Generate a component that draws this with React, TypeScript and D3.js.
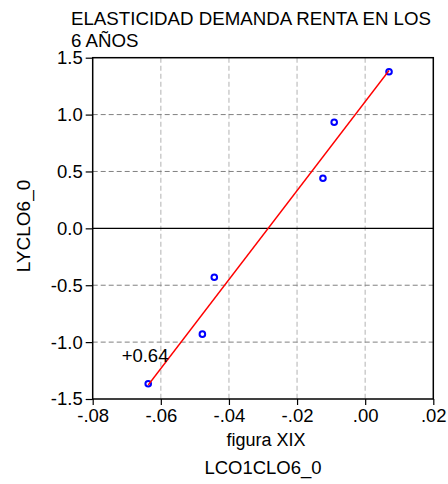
import React, { useEffect, useRef } from "react";
import * as d3 from "d3";

// valores
const lco1clo6 = [-0.0637, -0.0478, -0.0443, -0.0124, -0.0091, 0.007];
const lyclo6 = [-1.366, -0.93, -0.43, 0.44, 0.932, 1.377];
const xTicks = [-0.08, -0.06, -0.04, -0.02, 0.0, 0.02];
const yTicks = [-1.5, -1.0, -0.5, 0.0, 0.5, 1.0, 1.5];
const titleLines = ["ELASTICIDAD DEMANDA RENTA EN LOS", "6 AÑOS"];
const annotation = "+0.64";

const W = 448,
  H = 484;

function App() {
  const ref = useRef<SVGSVGElement>(null);

  useEffect(() => {
    document.body.style.margin = "0";
    drawChart();
  }, []);

  const drawChart = () => {
    const svg = d3.select(ref.current);
    svg.selectAll("*").remove();
    const font = "Liberation Sans, Arial, sans-serif";

    const x = d3.scaleLinear().domain([-0.08, 0.02]).range([92.7, 433.3]);
    const y = d3.scaleLinear().domain([-1.5, 1.5]).range([399, 57.7]);

    // grid
    svg
      .append("g")
      .selectAll("line")
      .data(xTicks.slice(1, -1))
      .enter()
      .append("line")
      .attr("x1", (d) => x(d))
      .attr("x2", (d) => x(d))
      .attr("y1", y(1.5))
      .attr("y2", y(-1.5))
      .attr("stroke", "#c4c4c4")
      .attr("stroke-width", 1.3)
      .attr("stroke-dasharray", "5,3");

    svg
      .append("g")
      .selectAll("line")
      .data(yTicks.filter((d) => d !== 0 && Math.abs(d) !== 1.5))
      .enter()
      .append("line")
      .attr("x1", x(-0.08))
      .attr("x2", x(0.02))
      .attr("y1", (d) => y(d))
      .attr("y2", (d) => y(d))
      .attr("stroke", "#808080")
      .attr("stroke-width", 1)
      .attr("stroke-dasharray", "5,3");

    // zero line
    svg
      .append("line")
      .attr("x1", x(-0.08))
      .attr("x2", x(0.02))
      .attr("y1", y(0))
      .attr("y2", y(0))
      .attr("stroke", "#000")
      .attr("stroke-width", 1.2);

    // axes
    const gx = svg
      .append("g")
      .attr("transform", "translate(0," + y(-1.5) + ")")
      .call(
        d3
          .axisBottom(x)
          .tickValues(xTicks)
          .tickSize(6)
          .tickPadding(4)
          .tickFormat((d) => d3.format(".2f")(+d).replace("\u2212", "-").replace("0.", "."))
      );
    const gy = svg
      .append("g")
      .attr("transform", "translate(" + x(-0.08) + ",0)")
      .call(
        d3
          .axisLeft(y)
          .tickValues(yTicks)
          .tickSize(7)
          .tickPadding(3)
          .tickFormat((d) => d3.format(".1f")(+d).replace("\u2212", "-"))
      );
    [gx, gy].forEach((g) => {
      g.select(".domain").remove();
      g.selectAll("line").attr("stroke", "#000").attr("stroke-width", 1.2);
      g.selectAll("text").attr("font-family", font).attr("font-size", 18.5).attr("fill", "#000");
    });

    // frame
    svg
      .append("rect")
      .attr("x", x(-0.08))
      .attr("y", y(1.5))
      .attr("width", x(0.02) - x(-0.08))
      .attr("height", y(-1.5) - y(1.5))
      .attr("fill", "none")
      .attr("stroke", "#000")
      .attr("stroke-width", 1.5);

    // points
    const pts = lco1clo6.map((v, i) => [v, lyclo6[i]]);
    svg
      .append("g")
      .selectAll("circle")
      .data(pts)
      .enter()
      .append("circle")
      .attr("cx", (d) => x(d[0]))
      .attr("cy", (d) => y(d[1]))
      .attr("r", 2.8)
      .attr("fill", "none")
      .attr("stroke", "#0000ff")
      .attr("stroke-width", 2);

    // regression line
    const mx = d3.mean(lco1clo6)!,
      my = d3.mean(lyclo6)!;
    const slope =
      d3.sum(pts, (p) => (p[0] - mx) * (p[1] - my)) / d3.sum(pts, (p) => (p[0] - mx) * (p[0] - mx));
    const fit = (v: number) => my + slope * (v - mx);
    const ext = d3.extent(lco1clo6) as [number, number];
    svg
      .append("path")
      .attr("d", d3.line()(ext.map((v) => [x(v), y(fit(v))] as [number, number])))
      .attr("stroke", "#ff0000")
      .attr("stroke-width", 1.4)
      .attr("fill", "none");

    // annotation
    svg
      .append("text")
      .attr("x", x(-0.0715))
      .attr("y", y(-1.175))
      .attr("font-family", font)
      .attr("font-size", 18.5)
      .text(annotation);

    // title
    svg
      .append("g")
      .selectAll("text")
      .data(titleLines)
      .enter()
      .append("text")
      .attr("x", 71)
      .attr("y", (d, i) => 24.5 + i * 22)
      .attr("font-family", font)
      .attr("font-size", 18.7)
      .text((d) => d);

    // axis labels
    svg
      .append("text")
      .attr("x", 266)
      .attr("y", 446)
      .attr("text-anchor", "middle")
      .attr("font-family", font)
      .attr("font-size", 18)
      .text("figura XIX");
    svg
      .append("text")
      .attr("x", 263)
      .attr("y", 474)
      .attr("text-anchor", "middle")
      .attr("font-family", font)
      .attr("font-size", 18.5)
      .text("LCO1CLO6_0");
    svg
      .append("text")
      .attr("transform", "translate(30,226) rotate(-90)")
      .attr("text-anchor", "middle")
      .attr("font-family", font)
      .attr("font-size", 19)
      .text("LYCLO6_0");
  };

  return <svg ref={ref} width={W} height={H} style={{ display: "block", background: "#fff" }} />;
}

export default App;
